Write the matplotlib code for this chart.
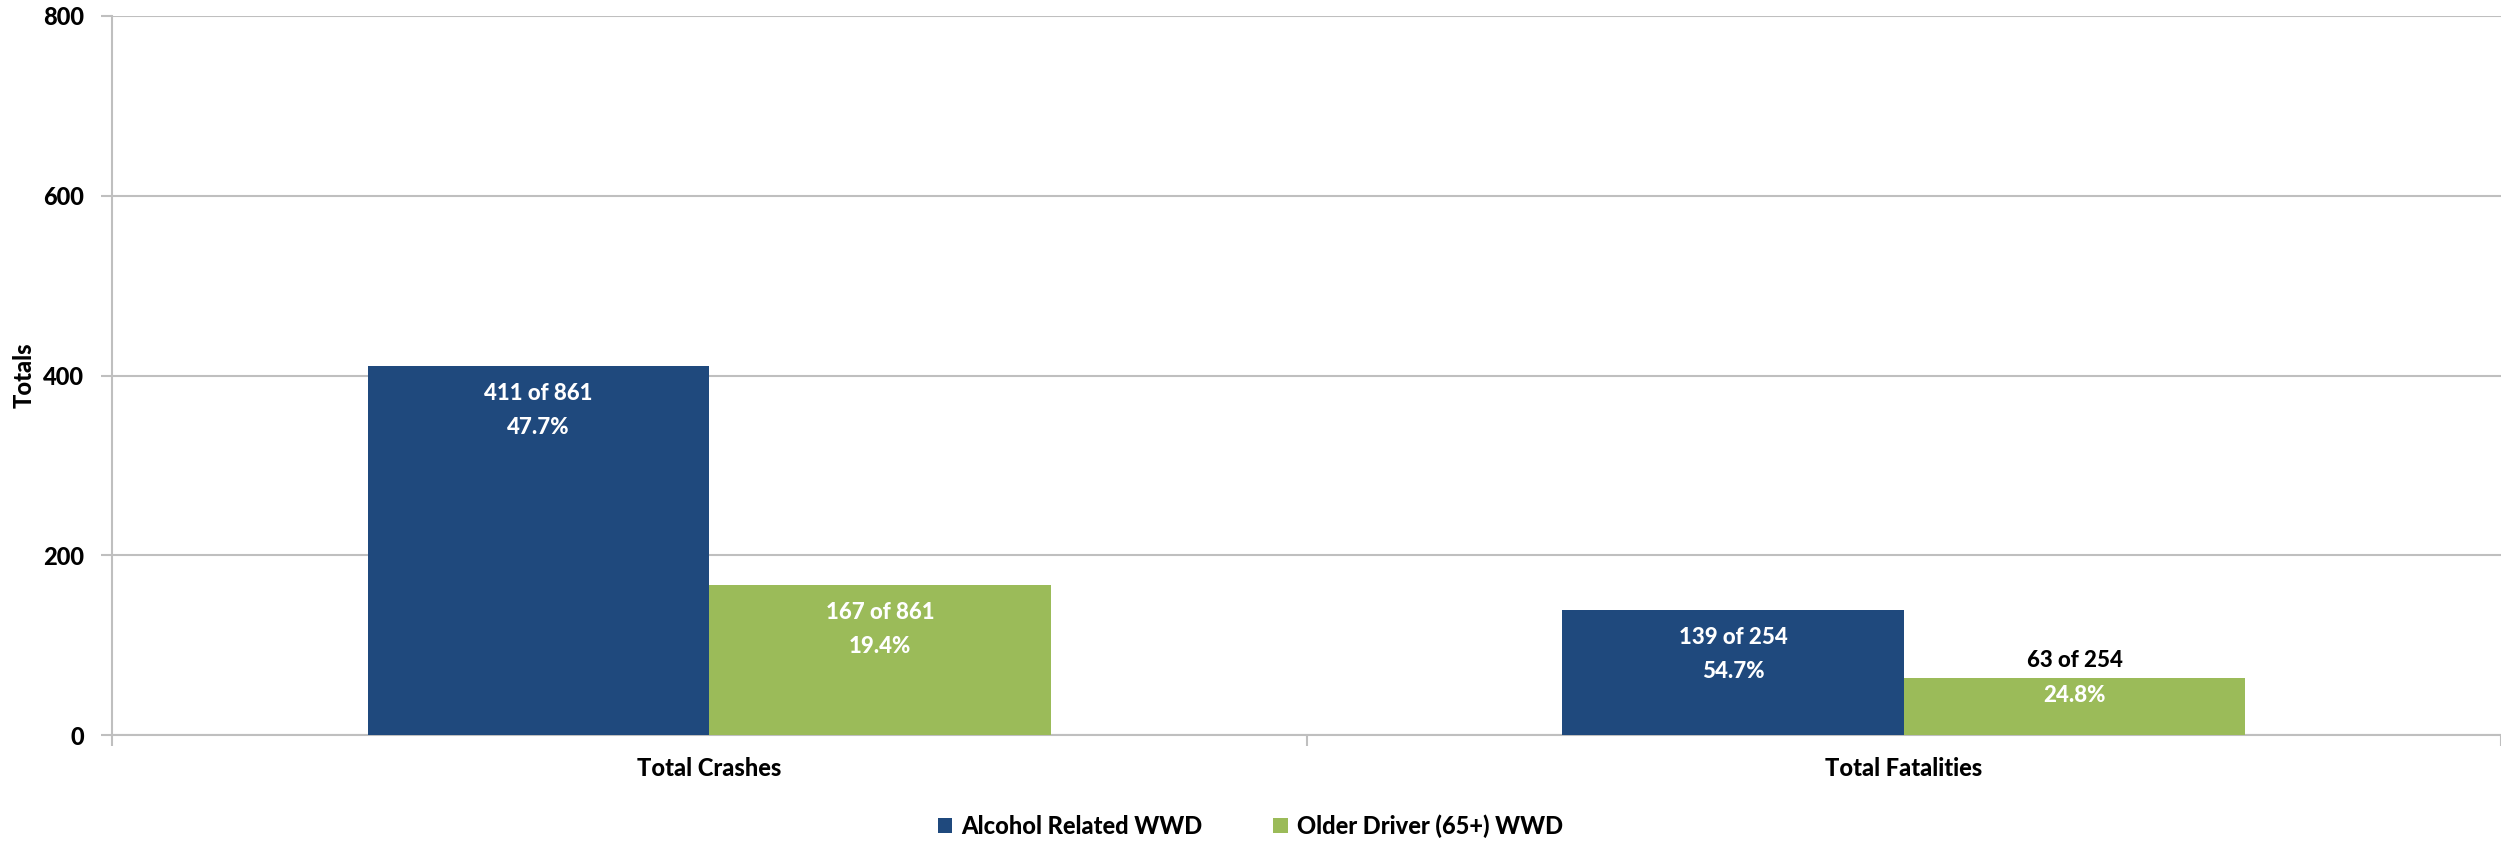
import numpy as np
import matplotlib
matplotlib.use("Agg")
import matplotlib.pyplot as plt
from matplotlib.ticker import FixedLocator

categories = ["Total Crashes", "Total Fatalities"]
series_names = ["Alcohol Related WWD", "Older Driver (65+) WWD"]
alcohol = [411, 139]
older = [167, 63]
totals = [861, 254]

colors = ["#1F497D", "#9BBB59"]
fam = ["Lato", "DejaVu Sans"]
wt = 900
grid_c = "#BFBFBF"

fig = plt.figure(figsize=(25.01, 8.42), dpi=100)
ax = fig.add_axes([0.0448, 0.127, 0.9552, 0.854])

ind = np.arange(len(categories))
width = 0.286
b1 = ax.bar(ind - width / 2, alcohol, width, color=colors[0], label=series_names[0], zorder=3)
b2 = ax.bar(ind + width / 2, older, width, color=colors[1], label=series_names[1], zorder=3)

ax.set_xlim(-0.5, 1.5)
ax.set_ylim(0, 800)
ax.set_yticks(np.arange(0, 801, 200))
ax.yaxis.grid(True, color=grid_c, linewidth=1.5, zorder=0)
ax.set_axisbelow(True)

for s in ["top", "right"]:
    ax.spines[s].set_visible(False)
for s in ["left", "bottom"]:
    ax.spines[s].set_color(grid_c)
    ax.spines[s].set_linewidth(1.5)

ax.tick_params(axis="y", colors=grid_c, length=8, width=1.5, pad=12)
for t in ax.get_yticklabels():
    t.set_color("black")
    t.set_fontsize(17)
    t.set_fontweight(wt)
    t.set_family(fam)

ax.set_xticks(ind)
ax.set_xticklabels(categories, fontsize=17, fontweight=wt, family=fam)
ax.tick_params(axis="x", length=0, pad=16)
ax.xaxis.set_minor_locator(FixedLocator([-0.5, 0.5, 1.5]))
ax.tick_params(axis="x", which="minor", length=8, width=1.5, color=grid_c)

ax.set_ylabel("Totals", fontsize=17, fontweight=wt, family=fam)
ax.yaxis.label.set_va("center")
ax.yaxis.set_label_coords(-0.0368, 0.5)

# data labels
for bars, vals in [(b1, alcohol), (b2, older)]:
    for rect, v, tot in zip(bars, vals, totals):
        x = rect.get_x() + rect.get_width() / 2
        pct = "%.1f%%" % (100.0 * v / tot)
        top_txt = "%d of %d" % (v, tot)
        if v < 100:
            off1, off2, c1 = 13, -12, "black"
        else:
            off1, off2, c1 = -20, -44.5, "white"
        ax.annotate(top_txt, (x, v), xytext=(0, off1), textcoords="offset points",
                    ha="center", va="center", fontsize=16, fontweight=wt,
                    family=fam, color=c1, zorder=4)
        ax.annotate(pct, (x, v), xytext=(0, off2), textcoords="offset points",
                    ha="center", va="center", fontsize=16, fontweight=wt,
                    family=fam, color="white", zorder=4)

leg = fig.legend(loc="center", bbox_to_anchor=(0.5, 0.019), ncol=2, frameon=False,
                 prop={"family": fam, "weight": wt, "size": 17},
                 handlelength=0.6, handleheight=0.6, columnspacing=3, handletextpad=0.4)

fig.savefig("out.png", dpi=100)
